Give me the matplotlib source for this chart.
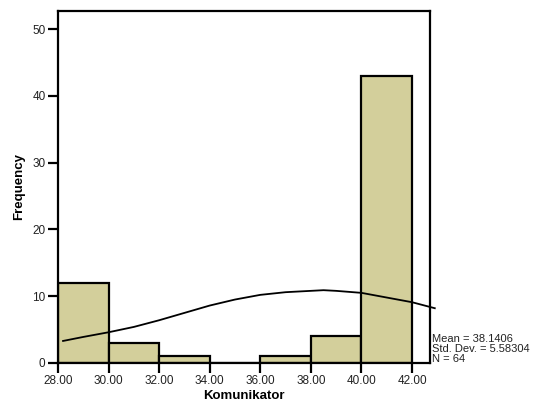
import matplotlib
matplotlib.use("Agg")
import matplotlib.pyplot as plt
import matplotlib.ticker as ticker

plt.rcParams["font.family"] = ["Liberation Sans", "DejaVu Sans"]

# histogram bins and counts
bin_edges = [28, 30, 32, 34, 36, 38, 40, 42]
counts = [12, 3, 1, 0, 1, 4, 43]

# fitted normal curve as drawn by SPSS
curve_x = [28.2, 29.0, 30.0, 31.0, 32.0, 33.0, 34.0, 35.0, 36.0, 37.0,
           38.0, 38.5, 39.0, 40.0, 41.0, 42.0, 42.9]
curve_y = [3.3, 3.9, 4.6, 5.4, 6.4, 7.5, 8.6, 9.5, 10.2, 10.6,
           10.8, 10.9, 10.8, 10.5, 9.8, 9.1, 8.2]

stats_text = "Mean = 38.1406\nStd. Dev. = 5.58304\nN = 64"
x_ticks = [28, 30, 32, 34, 36, 38, 40, 42]
y_ticks = [0, 10, 20, 30, 40, 50]

fig = plt.figure(figsize=(5.44, 4.09), dpi=100)
ax = fig.add_axes([0.1066, 0.1125, 0.6838, 0.8606])

widths = [b - a for a, b in zip(bin_edges[:-1], bin_edges[1:])]
ax.bar(bin_edges[:-1], counts, width=widths, align="edge",
       color="#d3cf9b", edgecolor="black", linewidth=1.6, zorder=2)

ax.plot(curve_x, curve_y, color="black", linewidth=1.3, clip_on=False, zorder=3)

ax.set_xlim(28, 42.71)
ax.set_ylim(0, 52.7)
ax.set_xticks(x_ticks)
ax.set_yticks(y_ticks)
ax.xaxis.set_major_formatter(ticker.FormatStrFormatter("%.2f"))
ax.tick_params(direction="out", length=7, width=1.6, labelsize=8.5, pad=2,
               labelcolor="#222222")
for s in ax.spines.values():
    s.set_linewidth(1.6)

ax.set_xlabel("Komunikator", fontsize=9.5, fontweight="bold", labelpad=2)
ax.set_ylabel("Frequency", fontsize=9.5, fontweight="bold", labelpad=5)

fig.text(432 / 544, 1 - 364 / 409, stats_text, fontsize=8,
         ha="left", va="bottom", linespacing=1.0, color="#222222")

fig.savefig("out.png", dpi=100)
